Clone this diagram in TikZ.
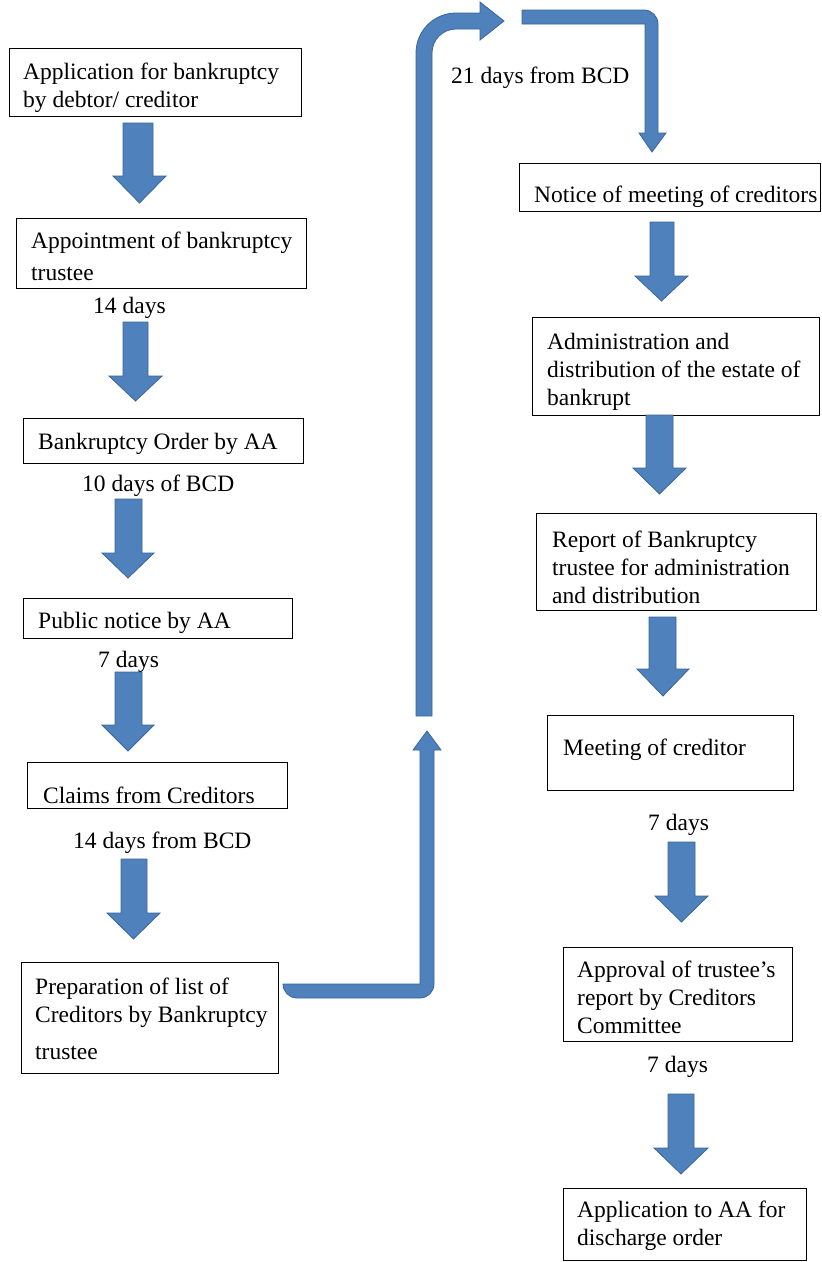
\documentclass[tikz,border=0pt]{standalone}
\usepackage{fontspec}
\setmainfont{Liberation Serif}
\begin{document}
\begin{tikzpicture}[x=1pt,y=-1pt,
  box/.style={draw=black, line width=1.2pt, inner sep=0pt, anchor=north west},
  txt/.style={inner sep=0pt, anchor=base west, align=left, font=\fontsize{23.5}{28}\selectfont},
  arrowfill/.style={fill=blockblue, draw=blockedge, line width=0.8pt, line join=miter}]
\definecolor{blockblue}{HTML}{4F81BD}
\definecolor{blockedge}{HTML}{3A6596}
\useasboundingbox (0,0) rectangle (822,1262);
\newcommand\boxat[5]{\node[box, minimum width={(#4-#2)*1pt}, minimum height={(#5-#3)*1pt}] (#1) at (#2,#3) {};}
\newcommand\blockdown[7]{\filldraw[arrowfill] (#1,#3) -- (#2,#3) -- (#2,#4) -- (#6,#4) -- ({(#5+#6)/2},#7) -- (#5,#4) -- (#1,#4) -- cycle;}
% left column boxes
\boxat{b1}{9}{48}{301}{116}
\boxat{b2}{16}{218}{306}{288}
\boxat{b3}{23}{418}{303}{463}
\boxat{b4}{23}{598}{292}{638}
\boxat{b5}{27}{762}{287}{808}
\boxat{b6}{21}{962}{278}{1073}
% right column boxes
\boxat{r1}{519}{163}{820}{211}
\boxat{r2}{532}{317}{819}{415}
\boxat{r3}{536}{513}{816}{610}
\boxat{r4}{547}{715}{793}{790}
\boxat{r5}{563}{947}{792}{1041}
\boxat{r6}{563}{1188}{806}{1260}
% texts (anchor = baseline of the last line)
\node[txt] (t1) at (23,107) {Application for bankruptcy\\by debtor/ creditor};
\node[txt] (t2) at (31,280) {Appointment of bankruptcy\\[4pt]trustee};
\node[txt] (t3) at (38,449) {Bankruptcy Order by AA};
\node[txt] (t4) at (38,628) {Public notice by AA};
\node[txt] (t5) at (43,803) {Claims from Creditors};
\node[txt] (t6) at (35,1059) {Preparation of list of\\Creditors by Bankruptcy\\[9pt]trustee};
\node[txt] (l1) at (93,313) {14 days};
\node[txt] (l2) at (82,491) {10 days of BCD};
\node[txt] (l3) at (98,667) {7 days};
\node[txt] (l4) at (73,848) {14 days from BCD};
\node[txt] (l5) at (451,83) {21 days from BCD};
\node[txt] (u1) at (534,202) {Notice of meeting of creditors};
\node[txt] (u2) at (547,405) {Administration and\\distribution of the estate of\\bankrupt};
\node[txt] (u3) at (552,603) {Report of Bankruptcy\\trustee for administration\\and distribution};
\node[txt] (u4) at (563,755) {Meeting of creditor};
\node[txt] (l6) at (648,830) {7 days};
\node[txt] (u5) at (577,1033) {Approval of trustee’s\\report by Creditors\\Committee};
\node[txt] (l7) at (647,1072) {7 days};
\node[txt] (u6) at (577,1245) {Application to AA for\\discharge order};
% down block arrows
\blockdown{123}{153}{123}{176}{113}{166}{203}
\blockdown{123}{148}{322}{376}{109}{162}{401}
\blockdown{115}{142}{499}{553}{102}{154}{578}
\blockdown{115}{142}{672}{725}{102}{154}{751}
\blockdown{121}{147}{859}{913}{107}{160}{939}
\blockdown{650}{674}{222}{276}{635}{688}{301}
\blockdown{646}{673}{415}{468}{633}{686}{494}
\blockdown{649}{676}{617}{669}{637}{689}{696}
\blockdown{668}{695}{842}{896}{655}{708}{922}
\blockdown{668}{694}{1094}{1148}{654}{708}{1174}
% bent arrows
\filldraw[arrowfill] (283,984) -- (420,984) -- (420,750) -- (413,750) -- (427,731) -- (441,750) -- (434,750)
  [rounded corners=14pt] -- (434,998) -- (283,998) [sharp corners] -- cycle;
\filldraw[arrowfill] [rounded corners=40pt] (416,716) -- (416,13) [sharp corners] -- (480,13) -- (480,2) -- (504,21) -- (480,40) -- (480,29)
  [rounded corners=24pt] -- (432,29) [sharp corners] -- (432,716) -- cycle;
\filldraw[arrowfill] [rounded corners=14pt] (522,10) -- (658,10) [sharp corners] -- (658,133) -- (666,133) -- (652,152) -- (639,133) -- (645,133) -- (645,24) -- (522,24) -- cycle;
\end{tikzpicture}
\end{document}
